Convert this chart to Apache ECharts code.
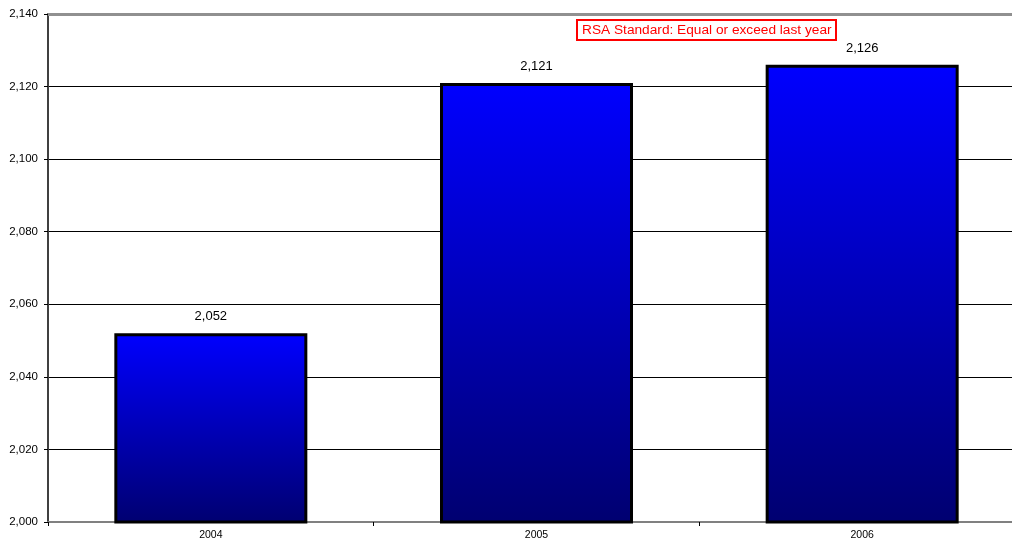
<!DOCTYPE html>
<html><head><meta charset="utf-8">
<script src="https://cdn.jsdelivr.net/npm/echarts@6/dist/echarts.min.js"></script>
<style>html,body{margin:0;padding:0;background:#fff;overflow:hidden}#c{width:1012px;height:542px}</style>
</head><body><div id="c"></div>
<script>
const categories = ['2004', '2005', '2006'];
const values = [2052, 2121, 2126];
const yTicks = [2000, 2020, 2040, 2060, 2080, 2100, 2120, 2140];
const note = 'RSA Standard: Equal or exceed last year';

const chart = echarts.init(document.getElementById('c'));
const fmt = v => v.toLocaleString('en-US');
const ff = 'Liberation Sans, Arial, sans-serif';
chart.setOption({
  animation: false,
  backgroundColor: '#fff',
  title: {
    text: note, left: 577, top: 20,
    padding: [3, 5, 3, 5],
    borderColor: '#ff0000', borderWidth: 2,
    textStyle: { color: '#ff0000', fontSize: 13.7, fontWeight: 'normal', fontFamily: ff }
  },
  grid: { left: 48, width: 977, top: 14, height: 508, containLabel: false, outerBoundsMode: 'none' },
  xAxis: {
    type: 'category', data: categories,
    axisLine: { lineStyle: { color: '#808080', width: 2 } },
    axisTick: { show: true, alignWithLabel: false, length: 4, lineStyle: { color: '#000' } },
    axisLabel: { color: '#000', fontSize: 10.5, fontFamily: ff, margin: 8 }
  },
  yAxis: {
    type: 'value', min: yTicks[0], max: yTicks[yTicks.length - 1], interval: 20,
    axisLine: { show: true, lineStyle: { color: '#404040', width: 2 } },
    axisTick: { show: true, length: 4, lineStyle: { color: '#000' } },
    splitLine: { lineStyle: { color: '#000', width: 1 } },
    axisLabel: { color: '#000', fontSize: 11.5, fontFamily: ff, margin: 10, formatter: v => fmt(v) }
  },
  series: [{
    type: 'bar', data: values, barWidth: 193,
    itemStyle: {
      color: new echarts.graphic.LinearGradient(0, 0, 0, 1, [
        { offset: 0, color: '#0000ff' }, { offset: 1, color: '#000070' }
      ]),
      borderColor: '#000', borderWidth: 3
    },
    label: {
      show: true, position: 'top', distance: 10, color: '#000', fontSize: 13,
      fontFamily: ff, formatter: p => fmt(p.value)
    },
    markLine: {
      silent: true, symbol: 'none', label: { show: false },
      lineStyle: { color: '#909090', width: 3, type: 'solid' },
      data: [{ yAxis: yTicks[yTicks.length - 1] }]
    }
  }]
});
</script></body></html>
